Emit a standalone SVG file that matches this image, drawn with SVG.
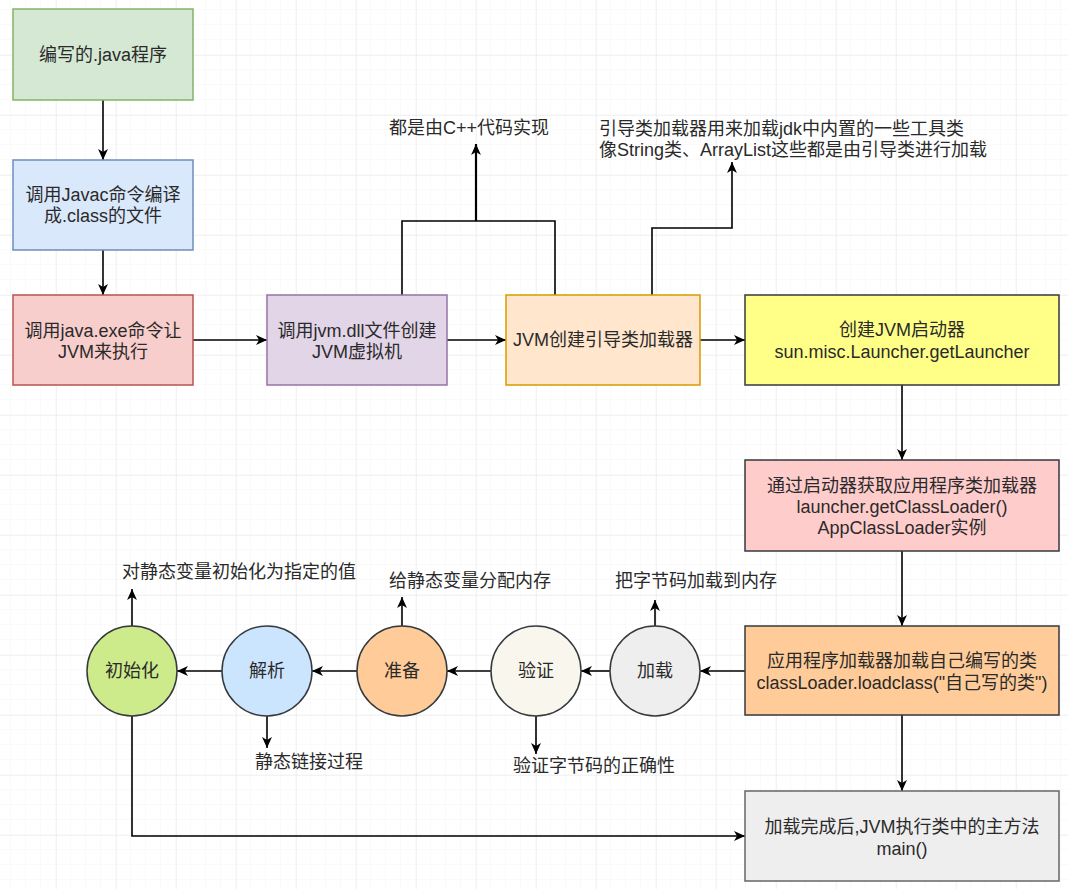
<svg xmlns="http://www.w3.org/2000/svg" width="1068" height="889" viewBox="0 0 1068 889">
<style>
text{font-family:"Liberation Sans","Noto Sans CJK SC",sans-serif;font-size:18px;fill:#2a2a2a;dominant-baseline:central}
.c{text-anchor:middle}
.s{text-anchor:start}
.box{stroke-width:1.5}
.dark{stroke:#36393d}
.conn path,.conn line{fill:none;stroke:#000;stroke-width:1.6}
</style>
<defs>
<pattern id="minor" width="15" height="15" patternUnits="userSpaceOnUse" x="11" y="10">
<path d="M15 0V15M0 15H15" fill="none" stroke="#f5f5f5" stroke-width="1"/>
</pattern>
<pattern id="major" width="60" height="60" patternUnits="userSpaceOnUse" x="56" y="55">
<path d="M0 0V60M0 0H60" fill="none" stroke="#e8e8e8" stroke-width="1"/>
</pattern>
<marker id="arr" viewBox="0 0 10 10" refX="10" refY="5" markerWidth="11" markerHeight="11" markerUnits="userSpaceOnUse" orient="auto">
<path d="M0,0.5 L10,5 L0,9.5 L2.8,5 Z" fill="#000"/>
</marker>
</defs>
<rect width="1068" height="889" fill="#fff"/>
<rect width="1068" height="889" fill="url(#minor)"/>
<rect width="1068" height="889" fill="url(#major)"/>

<g class="conn">
<line x1="103" y1="100" x2="103" y2="160" marker-end="url(#arr)"/>
<line x1="103" y1="250" x2="103" y2="295" marker-end="url(#arr)"/>
<line x1="193" y1="340" x2="267" y2="340" marker-end="url(#arr)"/>
<line x1="447" y1="340" x2="506" y2="340" marker-end="url(#arr)"/>
<line x1="700" y1="340" x2="745" y2="340" marker-end="url(#arr)"/>
<line x1="902" y1="385" x2="902" y2="460" marker-end="url(#arr)"/>
<line x1="902" y1="551" x2="902" y2="626" marker-end="url(#arr)"/>
<line x1="902" y1="715" x2="902" y2="791" marker-end="url(#arr)"/>
<line x1="745" y1="671" x2="700" y2="671" marker-end="url(#arr)"/>
<line x1="611" y1="671" x2="581" y2="671" marker-end="url(#arr)"/>
<line x1="491" y1="671" x2="447" y2="671" marker-end="url(#arr)"/>
<line x1="357" y1="671" x2="312" y2="671" marker-end="url(#arr)"/>
<line x1="222" y1="671" x2="177" y2="671" marker-end="url(#arr)"/>
<line x1="132" y1="626" x2="132" y2="589" marker-end="url(#arr)"/>
<line x1="402" y1="626" x2="402" y2="597" marker-end="url(#arr)"/>
<line x1="655" y1="626" x2="655" y2="600" marker-end="url(#arr)"/>
<line x1="267" y1="716" x2="267" y2="748" marker-end="url(#arr)"/>
<line x1="536" y1="716" x2="536" y2="754" marker-end="url(#arr)"/>
<path d="M132 716V836H745" marker-end="url(#arr)"/>
<path d="M402 295V221H555V295"/>
<line x1="476" y1="221" x2="476" y2="144" style="stroke-width:2.2" marker-end="url(#arr)"/>
<path d="M652 295V228H732V162" marker-end="url(#arr)"/>
</g>

<g id="n1"><rect class="box" x="13" y="9" width="180" height="91" fill="#d5e8d4" stroke="#82b366"/><text class="c" x="103" y="55">编写的.java程序</text></g>
<g id="n2"><rect class="box" x="13" y="160" width="180" height="90" fill="#dae8fc" stroke="#6c8ebf"/><text class="c" x="103" y="195">调用Javac命令编译</text><text class="c" x="103" y="216">成.class的文件</text></g>
<g id="n3"><rect class="box" x="13" y="295" width="180" height="90" fill="#f8cecc" stroke="#b85450"/><text class="c" x="103" y="331">调用java.exe命令让</text><text class="c" x="103" y="352">JVM来执行</text></g>
<g id="n4"><rect class="box" x="267" y="295" width="180" height="90" fill="#e1d5e7" stroke="#9673a6"/><text class="c" x="357" y="331">调用jvm.dll文件创建</text><text class="c" x="357" y="352">JVM虚拟机</text></g>
<g id="n5"><rect class="box" x="506" y="295" width="194" height="90" fill="#ffe6cc" stroke="#d79b00"/><text class="c" x="603" y="340">JVM创建引导类加载器</text></g>
<g id="n6"><rect class="box dark" x="745" y="295" width="314" height="90" fill="#ffff88"/><text class="c" x="902" y="330">创建JVM启动器</text><text class="c" x="902" y="352">sun.misc.Launcher.getLauncher</text></g>
<g id="n7"><rect class="box dark" x="745" y="460" width="314" height="91" fill="#ffcccc"/><text class="c" x="902" y="486">通过启动器获取应用程序类加载器</text><text class="c" x="902" y="507">launcher.getClassLoader()</text><text class="c" x="902" y="528">AppClassLoader实例</text></g>
<g id="n8"><rect class="box dark" x="745" y="626" width="314" height="89" fill="#ffcc99"/><text class="c" x="902" y="661">应用程序加载器加载自己编写的类</text><text class="c" x="902" y="683">classLoader.loadclass("自己写的类")</text></g>
<g id="n9"><rect class="box" x="745" y="791" width="314" height="90" fill="#eeeeee" stroke="#666"/><text class="c" x="902" y="827">加载完成后,JVM执行类中的主方法</text><text class="c" x="902" y="849">main()</text></g>

<g id="c1"><circle class="box dark" cx="132" cy="671" r="45" fill="#cdeb8b"/><text class="c" x="132" y="671">初始化</text></g>
<g id="c2"><circle class="box dark" cx="267" cy="671" r="45" fill="#cce5ff"/><text class="c" x="267" y="671">解析</text></g>
<g id="c3"><circle class="box dark" cx="402" cy="671" r="45" fill="#ffcc99"/><text class="c" x="402" y="671">准备</text></g>
<g id="c4"><circle class="box dark" cx="536" cy="671" r="45" fill="#f9f7ed"/><text class="c" x="536" y="671">验证</text></g>
<g id="c5"><circle class="box dark" cx="655" cy="671" r="45" fill="#eeeeee"/><text class="c" x="655" y="671">加载</text></g>

<g id="labels">
<text class="s" x="389" y="128">都是由C++代码实现</text>
<text class="s" x="599" y="129">引导类加载器用来加载jdk中内置的一些工具类</text>
<text class="s" x="599" y="150">像String类、ArrayList这些都是由引导类进行加载</text>
<text class="s" x="122" y="572">对静态变量初始化为指定的值</text>
<text class="s" x="389" y="581">给静态变量分配内存</text>
<text class="s" x="615" y="581">把字节码加载到内存</text>
<text class="s" x="255" y="762">静态链接过程</text>
<text class="s" x="513" y="766">验证字节码的正确性</text>
</g>
</svg>
